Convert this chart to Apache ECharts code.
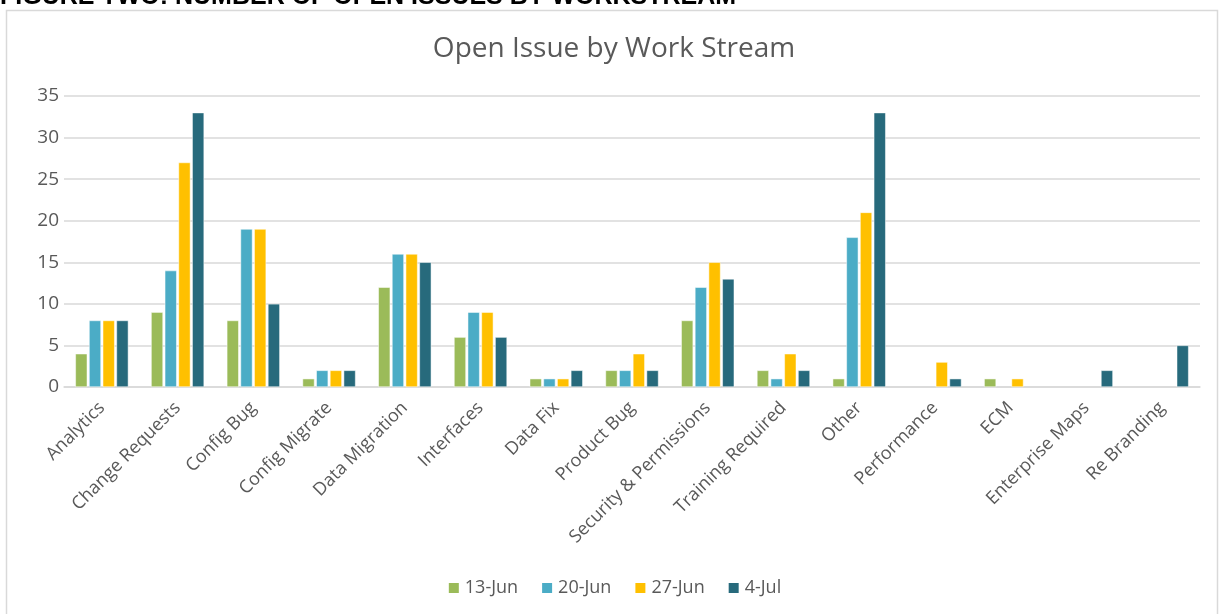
<!DOCTYPE html>
<html><head><meta charset="utf-8">
<script src="https://cdn.jsdelivr.net/npm/echarts@6/dist/echarts.min.js"></script>
<style>html,body{margin:0;padding:0;background:#fff}#c{width:1228px;height:614px}</style>
</head><body><div id="c"></div>
<script>
const categories = ["Analytics","Change Requests","Config Bug","Config Migrate","Data Migration","Interfaces","Data Fix","Product Bug","Security & Permissions","Training Required","Other","Performance","ECM","Enterprise Maps","Re Branding"];
const seriesNames = ["13-Jun","20-Jun","27-Jun","4-Jul"];
const jun13 = [4,9,8,1,12,6,1,2,8,2,1,null,1,null,null];
const jun20 = [8,14,19,2,16,9,1,2,12,1,18,null,null,null,null];
const jun27 = [8,27,19,2,16,9,1,4,15,4,21,3,1,null,null];
const jul4  = [8,33,10,2,15,6,2,2,13,2,33,1,null,2,5];
const colors = ["#9bbb59","#4bacc6","#ffc000","#276a7c"];
const yTicks = {min:0,max:35,interval:5};
const FONT = "'Open Sans', 'Liberation Sans', sans-serif";
const values = [jun13,jun20,jun27,jul4];
const chart = echarts.init(document.getElementById('c'));
chart.setOption({
  animation:false,
  title:{text:"Open Issue by Work Stream",left:'center',top:30,textStyle:{fontFamily:FONT,fontSize:28,fontWeight:'normal',color:'#595959'}},
  graphic:[
    {type:'rect',shape:{x:6.5,y:10.5,width:1211,height:640},style:{fill:'none',stroke:'#d9d9d9',lineWidth:1.5}},
    {type:'text',left:0,top:-15,style:{text:"FIGURE TWO: NUMBER OF OPEN ISSUES BY WORKSTREAM",font:"bold 25px 'Liberation Sans', sans-serif",fill:'#000'}}
  ],
  legend:{data:seriesNames,bottom:12,left:'center',itemWidth:12,itemHeight:12,itemGap:22,icon:'rect',textStyle:{fontFamily:FONT,fontSize:18,color:'#595959'}},
  grid:{left:64,right:28,top:96,bottom:227,containLabel:false},
  xAxis:{type:'category',data:categories,
    axisLine:{lineStyle:{color:'#d9d9d9',width:1.5}},axisTick:{show:false},
    axisLabel:{rotate:45,interval:0,fontFamily:FONT,fontSize:18,color:'#595959',margin:18}},
  yAxis:{type:'value',min:yTicks.min,max:yTicks.max,interval:yTicks.interval,
    axisLine:{show:false},axisTick:{show:false},
    splitLine:{lineStyle:{color:'#d9d9d9',width:1.5}},
    axisLabel:{fontFamily:FONT,fontSize:19,color:'#595959',margin:5}},
  series:seriesNames.map((n,i)=>({name:n,type:'bar',data:values[i],barGap:'15%',barCategoryGap:'30%',
    itemStyle:{color:colors[i],borderColor:'#fff',borderWidth:0.5}}))
});
</script></body></html>
